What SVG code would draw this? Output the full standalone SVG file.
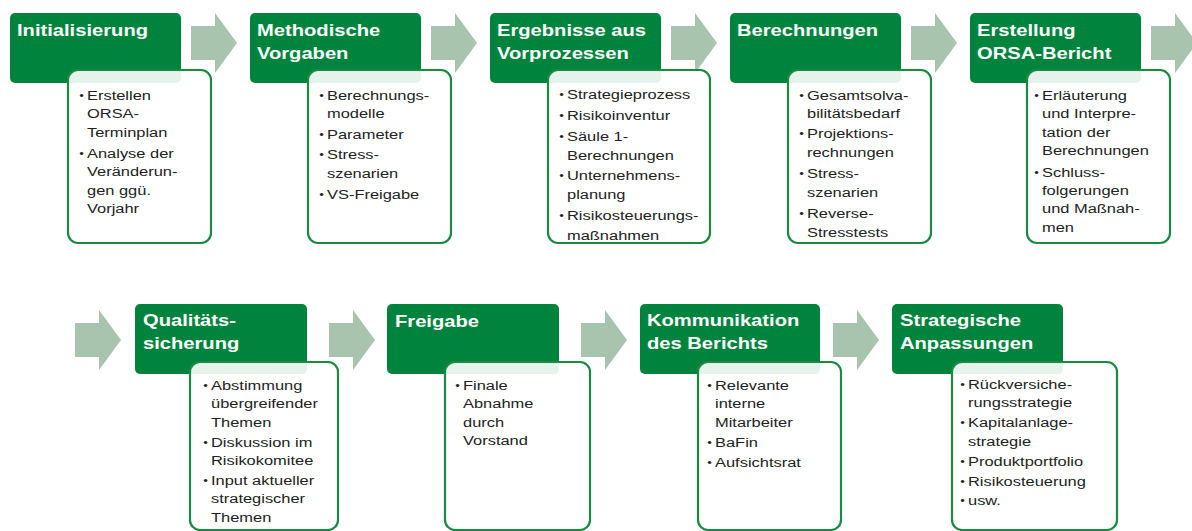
<svg xmlns="http://www.w3.org/2000/svg" xmlns:xlink="http://www.w3.org/1999/xlink" width="1192" height="531" viewBox="0 0 1192 531">
<style>
.g{fill:#00843D}
.w{fill:#ffffff;fill-opacity:0.9;stroke:#1A8A43;stroke-width:2.2}
.h{font-family:"Liberation Sans",Arial,sans-serif;font-weight:bold;font-size:16.8px;fill:#ffffff}
.t{font-family:"Liberation Sans",Arial,sans-serif;font-size:13.7px;fill:#222222}
.b{font-size:11px}
.a{fill:#A8C3AE}
</style>
<defs>
<path id="arr" d="M0,13 H24 V0 L46,30 L24,60 V47 H0 Z"/>
</defs>
<rect width="1192" height="531" fill="#ffffff"/>
<g id="connectors">
<use xlink:href="#arr" class="a" transform="translate(191,13)"/>
<use xlink:href="#arr" class="a" transform="translate(431,13)"/>
<use xlink:href="#arr" class="a" transform="translate(671,13)"/>
<use xlink:href="#arr" class="a" transform="translate(911,13)"/>
<use xlink:href="#arr" class="a" transform="translate(1151,13)"/>
<use xlink:href="#arr" class="a" transform="translate(75,310)"/>
<use xlink:href="#arr" class="a" transform="translate(329,310)"/>
<use xlink:href="#arr" class="a" transform="translate(581,310)"/>
<use xlink:href="#arr" class="a" transform="translate(833,310)"/>
</g>
<g id="initialisierung">
<rect class="g" x="10" y="13" width="171" height="70" rx="5"/>
<text class="h" transform="matrix(1.2 0 0 1 17 0)"><tspan x="0" y="36">Initialisierung</tspan></text>
<rect class="w" x="68" y="70" width="143" height="173" rx="10"/>
<text class="t" transform="matrix(1.2 0 0 1 87 0)">
<tspan class="b" x="-6.5" y="99">•</tspan><tspan x="0" y="100">Erstellen</tspan>
<tspan x="0" y="118.3">ORSA-</tspan>
<tspan x="0" y="136.6">Terminplan</tspan>
<tspan class="b" x="-6.5" y="157">•</tspan><tspan x="0" y="158">Analyse der</tspan>
<tspan x="0" y="176.3">Veränderun-</tspan>
<tspan x="0" y="194.6">gen ggü.</tspan>
<tspan x="0" y="212.9">Vorjahr</tspan>
</text>
</g>
<g id="methodische-vorgaben">
<rect class="g" x="250" y="13" width="171" height="70" rx="5"/>
<text class="h" transform="matrix(1.2 0 0 1 257 0)"><tspan x="0" y="36">Methodische</tspan><tspan x="0" y="59">Vorgaben</tspan></text>
<rect class="w" x="308" y="70" width="143" height="173" rx="10"/>
<text class="t" transform="matrix(1.2 0 0 1 327 0)">
<tspan class="b" x="-6.5" y="99">•</tspan><tspan x="0" y="100">Berechnungs-</tspan>
<tspan x="0" y="118.3">modelle</tspan>
<tspan class="b" x="-6.5" y="137.8">•</tspan><tspan x="0" y="138.8">Parameter</tspan>
<tspan class="b" x="-6.5" y="158.3">•</tspan><tspan x="0" y="159.3">Stress-</tspan>
<tspan x="0" y="177.6">szenarien</tspan>
<tspan class="b" x="-6.5" y="198.1">•</tspan><tspan x="0" y="199.1">VS-Freigabe</tspan>
</text>
</g>
<g id="ergebnisse">
<rect class="g" x="490" y="13" width="171" height="70" rx="5"/>
<text class="h" transform="matrix(1.2 0 0 1 497 0)"><tspan x="0" y="36">Ergebnisse aus</tspan><tspan x="0" y="59">Vorprozessen</tspan></text>
<rect class="w" x="548" y="70" width="162" height="173" rx="10"/>
<text class="t" transform="matrix(1.2 0 0 1 567 0)">
<tspan class="b" x="-6.5" y="98.5">•</tspan><tspan x="0" y="99.5">Strategieprozess</tspan>
<tspan class="b" x="-6.5" y="119.5">•</tspan><tspan x="0" y="120.5">Risikoinventur</tspan>
<tspan class="b" x="-6.5" y="139.7">•</tspan><tspan x="0" y="140.7">Säule 1-</tspan>
<tspan x="0" y="160">Berechnungen</tspan>
<tspan class="b" x="-6.5" y="179">•</tspan><tspan x="0" y="180">Unternehmens-</tspan>
<tspan x="0" y="199.3">planung</tspan>
<tspan class="b" x="-6.5" y="219.5">•</tspan><tspan x="0" y="220.5">Risikosteuerungs-</tspan>
<tspan x="0" y="240">maßnahmen</tspan>
</text>
</g>
<g id="berechnungen">
<rect class="g" x="730" y="13" width="171" height="70" rx="5"/>
<text class="h" transform="matrix(1.2 0 0 1 737 0)"><tspan x="0" y="36">Berechnungen</tspan></text>
<rect class="w" x="788" y="70" width="143" height="173" rx="10"/>
<text class="t" transform="matrix(1.2 0 0 1 807 0)">
<tspan class="b" x="-6.5" y="99">•</tspan><tspan x="0" y="100">Gesamtsolva-</tspan>
<tspan x="0" y="118.3">bilitätsbedarf</tspan>
<tspan class="b" x="-6.5" y="137.3">•</tspan><tspan x="0" y="138.3">Projektions-</tspan>
<tspan x="0" y="156.7">rechnungen</tspan>
<tspan class="b" x="-6.5" y="177.3">•</tspan><tspan x="0" y="178.3">Stress-</tspan>
<tspan x="0" y="196.7">szenarien</tspan>
<tspan class="b" x="-6.5" y="217.3">•</tspan><tspan x="0" y="218.3">Reverse-</tspan>
<tspan x="0" y="236.7">Stresstests</tspan>
</text>
</g>
<g id="erstellung-orsa-bericht">
<rect class="g" x="970" y="13" width="171" height="70" rx="5"/>
<text class="h" transform="matrix(1.2 0 0 1 977 0)"><tspan x="0" y="36">Erstellung</tspan><tspan x="0" y="59">ORSA-Bericht</tspan></text>
<rect class="w" x="1027" y="70" width="143" height="173" rx="10"/>
<text class="t" transform="matrix(1.2 0 0 1 1042 0)">
<tspan class="b" x="-6.5" y="99">•</tspan><tspan x="0" y="100">Erläuterung</tspan>
<tspan x="0" y="118.3">und Interpre-</tspan>
<tspan x="0" y="136.7">tation der</tspan>
<tspan x="0" y="155">Berechnungen</tspan>
<tspan class="b" x="-6.5" y="175.7">•</tspan><tspan x="0" y="176.7">Schluss-</tspan>
<tspan x="0" y="195">folgerungen</tspan>
<tspan x="0" y="213.3">und Maßnah-</tspan>
<tspan x="0" y="231.7">men</tspan>
</text>
</g>
<g id="qualitaetssicherung">
<rect class="g" x="135" y="304" width="172" height="70" rx="5"/>
<text class="h" transform="matrix(1.2 0 0 1 143 0)"><tspan x="0" y="326">Qualitäts-</tspan><tspan x="0" y="349">sicherung</tspan></text>
<rect class="w" x="190" y="362" width="148" height="168" rx="10"/>
<text class="t" transform="matrix(1.2 0 0 1 211 0)">
<tspan class="b" x="-6.5" y="389">•</tspan><tspan x="0" y="390">Abstimmung</tspan>
<tspan x="0" y="408.3">übergreifender</tspan>
<tspan x="0" y="426.7">Themen</tspan>
<tspan class="b" x="-6.5" y="445.7">•</tspan><tspan x="0" y="446.7">Diskussion im</tspan>
<tspan x="0" y="465">Risikokomitee</tspan>
<tspan class="b" x="-6.5" y="484">•</tspan><tspan x="0" y="485">Input aktueller</tspan>
<tspan x="0" y="503.3">strategischer</tspan>
<tspan x="0" y="521.7">Themen</tspan>
</text>
</g>
<g id="freigabe">
<rect class="g" x="387" y="304" width="172" height="70" rx="5"/>
<text class="h" transform="matrix(1.2 0 0 1 395 0)"><tspan x="0" y="327">Freigabe</tspan></text>
<rect class="w" x="445" y="362" width="145" height="168" rx="10"/>
<text class="t" transform="matrix(1.2 0 0 1 463 0)">
<tspan class="b" x="-6.5" y="389">•</tspan><tspan x="0" y="390">Finale</tspan>
<tspan x="0" y="408.3">Abnahme</tspan>
<tspan x="0" y="426.7">durch</tspan>
<tspan x="0" y="445">Vorstand</tspan>
</text>
</g>
<g id="kommunikation">
<rect class="g" x="640" y="304" width="180" height="70" rx="5"/>
<text class="h" transform="matrix(1.2 0 0 1 647 0)"><tspan x="0" y="326.5">Kommunikation</tspan><tspan x="0" y="349.5">des Berichts</tspan></text>
<rect class="w" x="698" y="362" width="143" height="168" rx="10"/>
<text class="t" transform="matrix(1.2 0 0 1 715 0)">
<tspan class="b" x="-6.5" y="389">•</tspan><tspan x="0" y="390">Relevante</tspan>
<tspan x="0" y="408.3">interne</tspan>
<tspan x="0" y="426.7">Mitarbeiter</tspan>
<tspan class="b" x="-6.5" y="445.7">•</tspan><tspan x="0" y="446.7">BaFin</tspan>
<tspan class="b" x="-6.5" y="465.7">•</tspan><tspan x="0" y="466.7">Aufsichtsrat</tspan>
</text>
</g>
<g id="strategische-anpassungen">
<rect class="g" x="892" y="304" width="171" height="70" rx="5"/>
<text class="h" transform="matrix(1.2 0 0 1 900 0)"><tspan x="0" y="326">Strategische</tspan><tspan x="0" y="349">Anpassungen</tspan></text>
<rect class="w" x="952" y="362" width="165" height="168" rx="10"/>
<text class="t" transform="matrix(1.2 0 0 1 968 0)">
<tspan class="b" x="-6.5" y="388.3">•</tspan><tspan x="0" y="389.3">Rückversiche-</tspan>
<tspan x="0" y="407.3">rungsstrategie</tspan>
<tspan class="b" x="-6.5" y="426.3">•</tspan><tspan x="0" y="427.3">Kapitalanlage-</tspan>
<tspan x="0" y="445.7">strategie</tspan>
<tspan class="b" x="-6.5" y="464.7">•</tspan><tspan x="0" y="465.7">Produktportfolio</tspan>
<tspan class="b" x="-6.5" y="484.7">•</tspan><tspan x="0" y="485.7">Risikosteuerung</tspan>
<tspan class="b" x="-6.5" y="504">•</tspan><tspan x="0" y="505">usw.</tspan>
</text>
</g>
</svg>
